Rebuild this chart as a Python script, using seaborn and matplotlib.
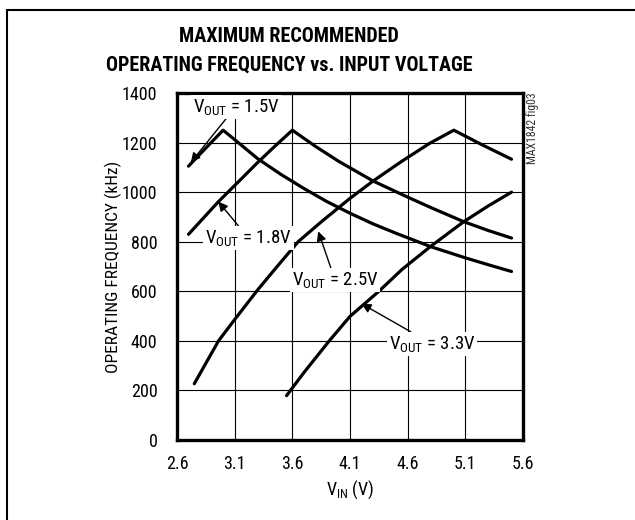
import numpy as np
import pandas as pd
import matplotlib
matplotlib.use("Agg")
import matplotlib.pyplot as plt
import seaborn as sns
from matplotlib.lines import Line2D

# --- data ---
VIN_15 = [2.70, 2.85, 3.00, 3.10, 3.30, 3.50, 3.70, 3.90, 4.10, 4.30, 4.50, 4.80, 5.10, 5.30, 5.50]
FREQ_15 = [1105, 1178, 1250, 1212, 1135, 1072, 1015, 962, 915, 872, 834, 780, 735, 707, 680]

VIN_18 = [2.70, 2.96, 3.15, 3.30, 3.45, 3.60, 3.80, 4.00, 4.30, 4.60, 4.80, 5.08, 5.30, 5.50]
FREQ_18 = [830, 962, 1050, 1120, 1186, 1250, 1185, 1125, 1045, 980, 938, 882, 845, 815]

VIN_25 = [2.75, 2.96, 3.10, 3.30, 3.45, 3.65, 3.85, 4.10, 4.30, 4.55, 4.79, 5.00, 5.25, 5.50]
FREQ_25 = [227, 400, 486, 606, 690, 800, 880, 975, 1045, 1125, 1197, 1250, 1190, 1133]

VIN_33 = [3.55, 3.70, 3.92, 4.10, 4.35, 4.55, 4.79, 5.08, 5.30, 5.50]
FREQ_33 = [179, 272, 400, 499, 600, 688, 778, 879, 945, 1000]

SERIES = ["1.5V", "1.8V", "2.5V", "3.3V"]

X_TICKS = [2.6, 3.1, 3.6, 4.1, 4.6, 5.1, 5.6]
Y_TICKS = [0, 200, 400, 600, 800, 1000, 1200, 1400]

# label text position, arrow tip
LABELS = {
    "1.5V": ((3.11, 1345), (2.72, 1120)),
    "1.8V": ((3.22, 815), (2.958, 962)),
    "2.5V": ((3.97, 645), (3.825, 842)),
    "3.3V": ((4.81, 388), (4.20, 550)),
}

sns.set_style("white")
plt.rcParams["font.family"] = ["Roboto Condensed", "DejaVu Sans"]
plt.rcParams["text.color"] = "black"
plt.rcParams["axes.labelcolor"] = "black"

frames = []
for name, vin, freq in zip(SERIES, [VIN_15, VIN_18, VIN_25, VIN_33],
                           [FREQ_15, FREQ_18, FREQ_25, FREQ_33]):
    frames.append(pd.DataFrame({"vin": vin, "freq": freq, "vout": name}))
df = pd.concat(frames, ignore_index=True)

fig = plt.figure(figsize=(6.35, 5.2), dpi=100)
ax = fig.add_axes([0.2787, 0.1538, 0.545, 0.6673])

sns.lineplot(data=df, x="vin", y="freq", units="vout", estimator=None,
             sort=False, color="black", lw=2.3, ax=ax, zorder=3)

ax.set_xlim(2.6, 5.6)
ax.set_ylim(0, 1400)
ax.set_xticks(X_TICKS)
ax.set_xticklabels([f"{t:.1f}" for t in X_TICKS])
ax.set_yticks(Y_TICKS)
ax.grid(True, color="black", lw=0.8)
ax.tick_params(axis="both", length=0, labelsize=13, colors="black")
ax.tick_params(axis="y", pad=14)
ax.tick_params(axis="x", pad=11)
for sp in ax.spines.values():
    sp.set_visible(True)
    sp.set_color("black")
    sp.set_linewidth(2.4)

ax.set_xlabel(r"$\mathregular{V_{IN}}$ (V)", fontsize=13)
ax.set_ylabel("OPERATING FREQUENCY (kHz)", fontsize=12.5)
ax.xaxis.set_label_coords(0.5, -0.11)
ax.yaxis.set_label_coords(-0.159, 0.5)

for name in SERIES:
    (tx, ty), tip = LABELS[name]
    ax.annotate(r"$\mathregular{V_{OUT}}$ = " + name, xy=tip, xytext=(tx, ty),
                ha="center", va="center", fontsize=13.5, zorder=5,
                bbox=dict(fc="white", ec="none", pad=1.5),
                arrowprops=dict(arrowstyle="-|>", color="black", lw=1,
                                mutation_scale=14, shrinkA=0, shrinkB=0))

fig.text(0.455, 0.929, "MAXIMUM RECOMMENDED", ha="center", va="center",
         fontsize=14.5, fontweight="bold")
fig.text(0.455, 0.875, "OPERATING FREQUENCY vs. INPUT VOLTAGE", ha="center",
         va="center", fontsize=14.5, fontweight="bold")
fig.text(0.839, 0.753, "MAX1842 fig03", rotation=90, ha="center", va="center",
         fontsize=8.5, color="#333333")

# outer frame (left and top edges)
fig.add_artist(Line2D([0.011, 0.011], [0.0, 0.98], color="black", lw=1.5,
                      transform=fig.transFigure))
fig.add_artist(Line2D([0.011, 1.0], [0.98, 0.98], color="black", lw=1.5,
                      transform=fig.transFigure))

fig.savefig("out.png", dpi=100)
